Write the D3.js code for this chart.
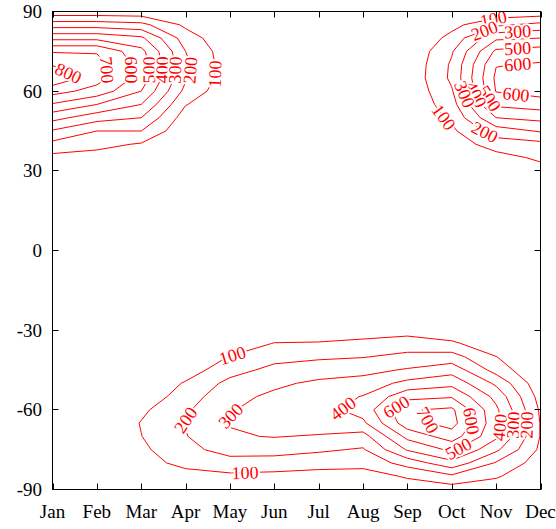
<!DOCTYPE html>
<html><head><meta charset="utf-8">
<script src="https://cdn.jsdelivr.net/npm/d3@7"></script>
<style>body{margin:0;background:#fff}svg{display:block}</style>
</head><body>
<svg id="chart" width="556" height="529"></svg>
<script>
// ---- data ----
const months = ["Jan","Feb","Mar","Apr","May","Jun","Jul","Aug","Sep","Oct","Nov","Dec"];
const yTicks = [-90,-60,-30,0,30,60,90];
const levels = [100,200,300,400,500,600,700,800];
// latitude rows of the grid (north to south)
const lats = [90,85,80,75,70,65,60,55,50,45,40,35,30,25,20,15,10,5,0,-5,-10,-15,-20,-25,-30,-35,-40,-45,-50,-55,-60,-65,-70,-75,-80,-85,-90];
// one column per month, values at each latitude above
const jan = [34,253,472,691,795,880,740,590,435,290,170,70,0, 0,0,0,0,0,0,0,0,0,0,0, 0,0,0,0,0,0,0,0,0,0,0,0,0];
const feb = [34,253,472,691,740,745,660,500,340,200,130,60,0, 0,0,0,0,0,0,0,0,0,0,0, 0,0,0,0,0,0,0,0,0,0,0,0,0];
const mar = [30,230,420,530,560,560,500,400,300,200,90,30,0, 0,0,0,0,0,0,0,0,0,0,0, 0,0,0,0,10,30,80,105,98,80,60,20,0];
const apr = [20,80,150,200,220,215,170,105,50,20,0,0,0, 0,0,0,0,0,0,0,0,0,0,0, 0,0,10,50,110,150,185,205,195,170,130,60,20];
const may = [0,10,20,35,40,40,25,10,0,0,0,0,0, 0,0,0,0,0,0,0,0,0,0,0, 0,20,105,160,230,270,295,305,290,240,160,80,30];
const jun = [0,0,0,0,0,0,0,0,0,0,0,0,0, 0,0,0,0,0,0,0,0,0,0,0, 10,105,165,230,280,320,330,335,305,235,160,70,20];
const jul = [0,0,0,0,0,0,0,0,0,0,0,0,0, 0,0,0,0,0,0,0,0,0,0,0, 20,110,185,250,320,350,360,360,290,215,140,60,20];
const aug = [0,0,0,0,0,0,0,0,0,0,0,0,0, 0,0,0,0,0,0,0,0,0,0,0, 40,130,195,270,340,405,440,380,260,190,130,60,20];
const sep = [0,0,0,10,15,20,15,5,0,0,0,0,0, 0,0,0,0,0,0,0,0,0,0,0, 60,150,225,310,430,570,690,660,530,410,240,110,50];
const oct = [10,70,130,190,215,220,190,160,120,80,40,10,0, 0,0,0,0,0,0,0,0,0,0,0, 20,120,240,360,470,590,720,740,650,520,370,180,50];
const nov = [20,180,380,520,595,620,605,520,400,250,150,60,0, 0,0,0,0,0,0,0,0,0,0,0, 0,20,102,160,280,370,420,430,420,320,190,110,50];
const dec = [30,230,400,550,610,650,640,550,430,310,170,120,60, 0,0,0,0,0,0,0,0,0,0,0, 0,0,0,0,30,60,85,95,95,80,50,30,10];
// contour label anchors: level, month position, latitude
const labelLevels = [800,700,600,500,400,300,200,100, 100,200,300,500,600,600,500,400,300,100,200, 100,100,200,300,400,600,700,600,400,300,200,500];
const labelMonths = [0.35,1.23,1.68,2.11,2.42,2.72,2.99,3.55, 9.95,9.73,10.49,10.49,10.49,10.45,9.86,9.43,9.14,8.73,9.70, 4.05,4.34,3.10,4.02,6.52,7.79,8.46,9.34,10.0,10.36,10.7,9.19];
const labelLats = [66.5,68,68,68,68,68,68,66.5, 86.4,83.0,80.4,75.1,69.5,58.9,57.4,57.8,57.8,49.1,43.1, -39.3,-84.5,-65,-62.3,-58.9,-60,-63.8,-64.5,-66.5,-65.7,-65.7,-75.9];

// ---- chart ----
const svg = d3.select("#chart");
const L = 52.5, R = 540.5, T = 11.5, B = 489.5;
const x = d3.scaleLinear().domain([0, months.length - 1]).range([L, R]);
const y = d3.scaleLinear().domain([-90, 90]).range([B, T]);
const font = "'Liberation Serif','Times New Roman',serif";

const cols = [jan,feb,mar,apr,may,jun,jul,aug,sep,oct,nov,dec];
const nx = cols.length, ny = lats.length;
const grid = new Array(nx * ny);
for (let j = 0; j < ny; j++) for (let i = 0; i < nx; i++) grid[j * nx + i] = cols[i][j];
const latStep = lats[0] - lats[1];
const toPx = (gx, gy) => [x(gx - 0.5), y(lats[0] - latStep * (gy - 0.5))];
const proj = d3.geoTransform({ point(gx, gy) { const p = toPx(gx, gy); this.stream.point(p[0], p[1]); } });
const path = d3.geoPath(proj);
const contours = d3.contours().size([nx, ny]).thresholds(levels)(grid);

svg.append("defs").append("clipPath").attr("id", "clip")
  .append("rect").attr("x", L).attr("y", T).attr("width", R - L).attr("height", B - T);

const g = svg.append("g").attr("clip-path", "url(#clip)");
g.selectAll("path").data(contours).enter().append("path")
  .attr("d", path).attr("fill", "none").attr("stroke", "#ff0000").attr("stroke-width", 1);

// labels placed on nearest contour point
const labG = svg.append("g").attr("clip-path", "url(#clip)");
labelLevels.forEach((lev, k) => {
  const c = contours.find(d => d.value === lev);
  if (!c) return;
  const tx = x(labelMonths[k]), ty = y(labelLats[k]);
  let best = null;
  c.coordinates.forEach(poly => poly.forEach(ring => {
    const pts = ring.map(p => toPx(p[0], p[1]));
    for (let i = 0; i < pts.length - 1; i++) {
      const [ax, ay] = pts[i], [bx, by] = pts[i + 1];
      const dx = bx - ax, dy = by - ay, l2 = dx * dx + dy * dy;
      if (l2 === 0) continue;
      let t = ((tx - ax) * dx + (ty - ay) * dy) / l2;
      t = Math.max(0, Math.min(1, t));
      const px = ax + t * dx, py = ay + t * dy;
      if (px < L || px > R || py < T || py > B) continue;
      const d = (px - tx) ** 2 + (py - ty) ** 2;
      if (!best || d < best.d) best = { d, px, py, ang: Math.atan2(dy, dx) * 180 / Math.PI };
    }
  }));
  if (!best) return;
  let a = best.ang;
  if (a >= 90) a -= 180; if (a < -90) a += 180;
  labG.append("text")
    .attr("transform", `translate(${best.px},${best.py}) rotate(${a})`)
    .attr("text-anchor", "middle").attr("dy", "0.35em")
    .attr("font-family", font).attr("font-size", 18)
    .attr("fill", "#ff0000").attr("stroke", "#fff").attr("stroke-width", 4)
    .attr("paint-order", "stroke").text(lev);
});

// frame and ticks
const ax = svg.append("g").attr("stroke", "#000").attr("stroke-width", 1);
ax.append("rect").attr("x", L).attr("y", T).attr("width", R - L).attr("height", B - T).attr("fill", "none");
const tl = 6;
months.forEach((m, i) => {
  const xx = Math.round(x(i)) + 0.5;
  ax.append("line").attr("x1", xx).attr("x2", xx).attr("y1", B).attr("y2", B - tl);
  ax.append("line").attr("x1", xx).attr("x2", xx).attr("y1", T).attr("y2", T + tl);
});
yTicks.forEach(v => {
  const yy = Math.round(y(v) - 0.5) + 0.5;
  ax.append("line").attr("x1", L).attr("x2", L + tl).attr("y1", yy).attr("y2", yy);
  ax.append("line").attr("x1", R).attr("x2", R - tl).attr("y1", yy).attr("y2", yy);
});
svg.append("g").selectAll("text").data(months).enter().append("text")
  .attr("x", (d, i) => x(i)).attr("y", 518).attr("text-anchor", "middle")
  .attr("font-family", font).attr("font-size", 19).attr("fill", "#000").text(d => d);
svg.append("g").selectAll("text").data(yTicks).enter().append("text")
  .attr("x", 42).attr("y", d => y(d)).attr("dy", "0.35em").attr("text-anchor", "end")
  .attr("font-family", font).attr("font-size", 19).attr("fill", "#000").text(d => d);
</script>
</body></html>
